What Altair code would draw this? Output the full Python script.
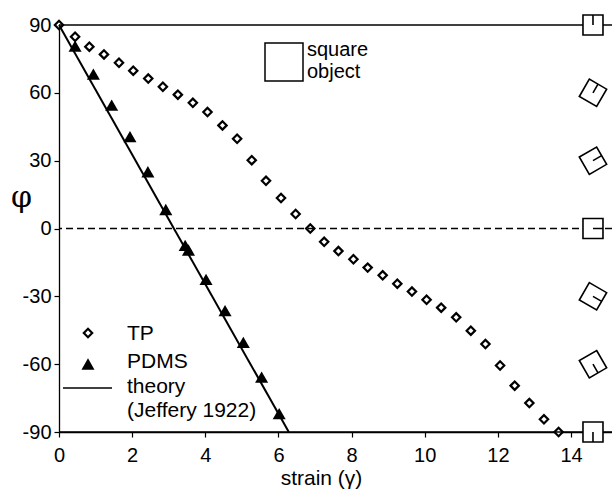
import altair as alt
import pandas as pd

# Measured orientation angle (phi, degrees) versus shear strain (gamma)
tp_strain = [0.0, 0.44, 0.83, 1.23, 1.64, 2.03, 2.44, 2.84, 3.25, 3.66,
             4.06, 4.47, 4.87, 5.27, 5.66, 6.07, 6.47, 6.87,
             7.25, 7.64, 8.05, 8.44, 8.85, 9.25, 9.65, 10.05, 10.45, 10.86,
             11.26, 11.66, 12.06, 12.46, 12.86, 13.26, 13.66]
tp_phi = [90, 84.8, 80.4, 77.0, 73.3, 69.8, 66.3, 62.7, 59.2, 55.6,
          51.5, 45.6, 39.7, 30.2, 21.1, 13.5, 6.4, 0,
          -5.9, -10.0, -13.6, -17.3, -20.7, -24.4, -27.9, -31.5, -35.0, -39.3,
          -45.2, -51.1, -60.6, -69.5, -77.2, -84.4, -90]

pdms_strain = [0.44, 0.94, 1.44, 1.94, 2.43, 2.92, 3.45, 3.54, 4.02, 4.54, 5.04, 5.54, 6.02]
pdms_phi = [80.7, 68.3, 54.6, 40.6, 25.1, 8.4, -7.5, -9.5, -22.5, -36.3, -50.4, -65.7, -81.9]

# Jeffery (1922) rigid rotation for an equant object: phi = 90 - gamma/2 (rad)
theory_strain = [0.0, 6.283]
theory_phi = [90, -90]

# Orientation sketches of the square object along the right margin
icon_phi = [90, 60, 30, 0, -30, -60, -90]
icon_strain = 14.6

x_ticks = [0, 2, 4, 6, 8, 10, 12, 14]
y_ticks = [-90, -60, -30, 0, 30, 60, 90]
ref_lines = [90, -90]

legend_labels = ["TP", "PDMS", "theory", "(Jeffery 1922)"]
inset_labels = ["square", "object"]

FONT = "Liberation Sans"
W, H = 553, 407

tp = pd.DataFrame({"strain": tp_strain, "phi": tp_phi})
pdms = pd.DataFrame({"strain": pdms_strain, "phi": pdms_phi})
theory = pd.DataFrame({"strain": theory_strain, "phi": theory_phi})
icons = pd.DataFrame({"strain": [icon_strain] * len(icon_phi), "phi": icon_phi,
                      "rot": [(360 - p) % 360 for p in icon_phi]})
refs = pd.DataFrame({"phi": ref_lines})
zero = pd.DataFrame({"phi": [0]})
one = pd.DataFrame({"k": [0]})

x_scale = alt.Scale(domain=[0, 15.12], nice=False, zero=False)
y_scale = alt.Scale(domain=[-90, 90], nice=False)

x_enc = alt.X("strain:Q", scale=x_scale, axis=alt.Axis(
    values=x_ticks, title="strain (γ)", titleFontSize=21, titleFontWeight="normal",
    titleX=262, titleY=52, titleBaseline="alphabetic",
    labelFontSize=20, labelPadding=8, tickSize=5, labelFlush=False))
y_enc = alt.Y("phi:Q", scale=y_scale, axis=alt.Axis(
    values=y_ticks, title="φ", titleAngle=0, titleFont="DejaVu Serif",
    titleFontSize=30, titleFontWeight="normal", titleX=-38, titleY=172,
    titleBaseline="middle", titleAlign="center",
    labelFontSize=20, labelPadding=3, tickSize=5,
    labelExpr="'' + datum.value"))

solid_rules = alt.Chart(refs).mark_rule(color="black", strokeWidth=1.3).encode(
    y=alt.Y("phi:Q", scale=y_scale))
dashed_rule = alt.Chart(zero).mark_rule(color="black", strokeWidth=1.3, strokeDash=[7, 4]).encode(
    y=alt.Y("phi:Q", scale=y_scale))

theory_line = alt.Chart(theory).mark_line(color="black", strokeWidth=2).encode(
    x=alt.X("strain:Q", scale=x_scale), y=alt.Y("phi:Q", scale=y_scale))

tp_pts = alt.Chart(tp).mark_point(shape="diamond", filled=True, fill="white",
                                  stroke="black", strokeWidth=2.2, size=70, opacity=1).encode(
    x=x_enc, y=y_enc)

pdms_pts = alt.Chart(pdms).mark_point(shape="triangle-up", filled=True, color="black",
                                      size=170, opacity=1).encode(
    x=alt.X("strain:Q", scale=x_scale), y=alt.Y("phi:Q", scale=y_scale))

icon_pts = alt.Chart(icons).mark_point(
    shape="M-1,-1L1,-1L1,1L-1,1Z M0,0L1,0", filled=True, fill="white",
    stroke="black", strokeWidth=1.6, size=400, opacity=1).encode(
    x=alt.X("strain:Q", scale=x_scale), y=alt.Y("phi:Q", scale=y_scale),
    angle=alt.Angle("rot:Q", scale=None))

# Hand-drawn legend inside the plot area
leg_tp = alt.Chart(one).mark_point(shape="diamond", filled=True, fill="white",
                                   stroke="black", strokeWidth=2.2, size=70, opacity=1).encode(
    x=alt.value(29), y=alt.value(308))
leg_pdms = alt.Chart(one).mark_point(shape="triangle-up", filled=True, color="black",
                                     size=170, opacity=1).encode(
    x=alt.value(29), y=alt.value(339))
leg_line = alt.Chart(one).mark_rule(color="black", strokeWidth=1.5).encode(
    x=alt.value(4), x2=alt.value(53), y=alt.value(363))

def leg_text(label, y):
    return alt.Chart(one).mark_text(align="left", baseline="alphabetic", font=FONT,
                                    fontSize=21, color="black").encode(
        x=alt.value(68), y=alt.value(y), text=alt.value(label))

leg_texts = [leg_text(legend_labels[0], 315), leg_text(legend_labels[1], 343),
             leg_text(legend_labels[2], 368), leg_text(legend_labels[3], 392)]

# "square object" key in the upper part of the plot
inset_sq = alt.Chart(one).mark_point(shape="square", filled=True, fill="white",
                                     stroke="black", strokeWidth=1.5, size=1444, opacity=1).encode(
    x=alt.value(225), y=alt.value(37))

def inset_text(label, y):
    return alt.Chart(one).mark_text(align="left", baseline="alphabetic", font=FONT,
                                    fontSize=20, color="black").encode(
        x=alt.value(248), y=alt.value(y), text=alt.value(label))

inset_texts = [inset_text(inset_labels[0], 31), inset_text(inset_labels[1], 53)]

chart = alt.layer(
    tp_pts, solid_rules, dashed_rule, theory_line, pdms_pts, icon_pts,
    leg_tp, leg_pdms, leg_line, *leg_texts, inset_sq, *inset_texts
).properties(
    width=W, height=H,
    autosize=alt.AutoSizeParams(type="none"),
    padding={"left": 59, "top": 25, "right": 0, "bottom": 57},
    background="white",
).configure_view(stroke=None).configure_axis(
    grid=False, domainColor="black", domainWidth=1.3, tickColor="black", tickWidth=1.2,
    labelColor="black", titleColor="black", labelFont=FONT, titleFont=FONT,
)

chart.save("out.html", embed_options={"renderer": "svg", "actions": False})
